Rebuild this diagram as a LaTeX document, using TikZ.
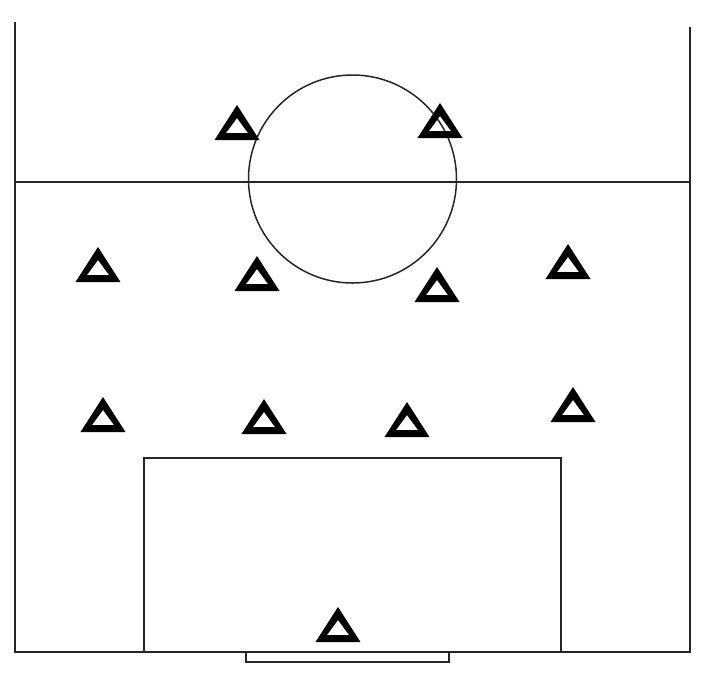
\documentclass[tikz,border=0pt]{standalone}
\begin{document}
\begin{tikzpicture}[x=1pt,y=-1pt,
  fieldline/.style={draw=black!85,line width=1.5pt},
  player/.pic={\fill[black,even odd rule] (-22.5,0)--(22.5,0)--(0,-35)--cycle (-11,-7)--(11,-7)--(0,-22)--cycle;}]
\useasboundingbox (0,0) rectangle (709,678);
% field
\draw[fieldline] (15,22) -- (15,652) -- (690,652) -- (690,27);
\draw[fieldline] (15,182) -- (690,182);
\draw[fieldline] (144,652) -- (144,458) -- (561,458) -- (561,652);
\draw[fieldline] (246,652) -- (246,662) -- (449,662) -- (449,652);
\draw[fieldline] (352.5,179) circle (104);
% players
\foreach \px/\py in {237/140,440/138,98/282,257/291,437/302,568/279,103/432,264/434,407/437,573/422,338/642}
  \pic at (\px,\py) {player};
\end{tikzpicture}
\end{document}
